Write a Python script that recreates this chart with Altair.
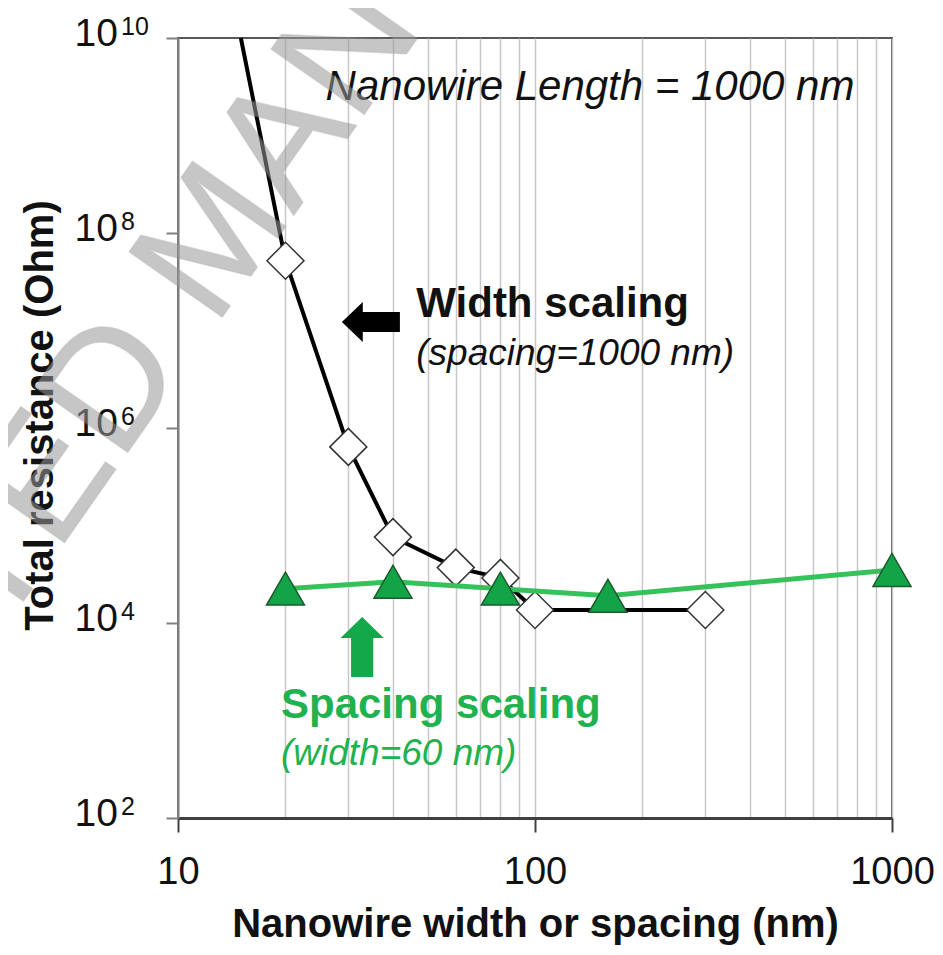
import altair as alt
import pandas as pd

# ---------------- data ----------------
# Width scaling (spacing = 1000 nm): black line, open diamonds
width_nm = [15, 20, 30, 40, 60, 80, 100, 300]
width_res = [1.0e10, 5.2e7, 6.4e5, 7.6e4, 3.7e4, 2.9e4, 1.36e4, 1.36e4]
width_marker = [False, True, True, True, True, True, True, True]

# Spacing scaling (width = 60 nm): green line, filled triangles
spacing_nm = [20, 40, 80, 160, 1000]
spacing_res = [2.25e4, 2.65e4, 2.25e4, 1.9e4, 3.5e4]

# axes
x_grid_values = [10, 20, 30, 40, 50, 60, 70, 80, 90,
                 100, 200, 300, 400, 500, 600, 700, 800, 900, 1000]
x_major = [10, 100, 1000]
y_tick_values = [1e2, 1e4, 1e6, 1e8, 1e10]
y_tick_base = ["10", "10", "10", "10", "10"]
y_tick_exp = ["2", "4", "6", "8", "10"]

x_title = "Nanowire width or spacing (nm)"
y_title = "Total resistance (Ohm)"

# annotations: text, x (nm), y (Ohm)
ann_length = ("Nanowire Length = 1000 nm", 142.6, 2.31e9)
ann_width_a = ("Width scaling", 46.5, 1.37e7)
ann_width_b = ("(spacing=1000 nm)", 46.5, 4.43e6)
ann_spacing_a = ("Spacing scaling", 19.43, 1.06e3)
ann_spacing_b = ("(width=60 nm)", 19.43, 350)
arrow_left = (34.7, 1.22e7)
arrow_up = (32.8, 5.68e3)
watermark = ("ACCEPTED MANUSCRIPT", 16.6, 4.37e7)

# ---------------- tables ----------------
df_w = pd.DataFrame({"x": width_nm, "y": width_res, "m": width_marker})
df_s = pd.DataFrame({"x": spacing_nm, "y": spacing_res})
df_yt = pd.DataFrame({"y": y_tick_values, "base": y_tick_base, "exp": y_tick_exp})

FONT = "Liberation Sans"
GREEN_LINE = "#35c25a"
GREEN_FILL = "#13a447"
GREEN_EDGE = "#1d5a2f"
GREEN_TEXT = "#20b24f"

major_test = "indexof([" + ",".join(str(v) for v in x_major) + "], datum.value) >= 0"

x_scale = alt.Scale(type="log", domain=[10, 1000], nice=False)
y_scale = alt.Scale(type="log", domain=[1e2, 1e10], nice=False)

x_axis = alt.Axis(
    values=x_grid_values,
    labelExpr=major_test + " ? format(datum.value, 'd') : ''",
    grid=True, gridColor="#c8c8c8", gridWidth=1.5,
    tickOpacity={"condition": {"test": major_test, "value": 1}, "value": 0},
    tickSize=14, tickColor="#404040", tickWidth=2,
    domainColor="#404040", domainWidth=3,
    labelFont=FONT, labelFontSize=38, labelColor="#111111",
    labelPadding=51, labelBaseline="alphabetic", labelFlush=False,
    labelOverlap=False,
    title=x_title, titleFont=FONT, titleFontSize=40, titleFontWeight="bold",
    titleColor="#111111", titleX=357, titleY=118, titleBaseline="alphabetic",
    titleAlign="center",
)
y_axis = alt.Axis(
    values=y_tick_values, labels=False, grid=False,
    tickSize=12, tickColor="#808080", tickWidth=2,
    domainColor="#808080", domainWidth=2,
    title=y_title, titleFont=FONT, titleFontSize=40, titleFontWeight="bold",
    titleColor="#111111", titleAngle=270, titleX=-126, titleY=377,
    titleBaseline="alphabetic", titleAlign="center",
)

X = alt.X("x:Q", scale=x_scale, axis=x_axis)
Y = alt.Y("y:Q", scale=y_scale, axis=y_axis)

width_line = alt.Chart(df_w).mark_line(color="#000000", strokeWidth=4).encode(x=X, y=Y)
width_pts = alt.Chart(df_w).transform_filter("datum.m").mark_point(
    shape="diamond", filled=True, fill="#ffffff", stroke="#333333",
    strokeWidth=1.5, size=1369, opacity=1
).encode(x=X, y=Y)

spacing_line = alt.Chart(df_s).mark_line(color=GREEN_LINE, strokeWidth=5).encode(x=X, y=Y)
spacing_pts = alt.Chart(df_s).mark_point(
    shape="triangle-up", filled=True, fill=GREEN_FILL, stroke=GREEN_EDGE,
    strokeWidth=1.5, size=1444, opacity=1
).encode(x=X, y=Y)


def pt(xy):
    return pd.DataFrame({"x": [xy[0]], "y": [xy[1]]})


def txt(a):
    return pd.DataFrame({"x": [a[1]], "y": [a[2]], "t": [a[0]]})


arrow_l = alt.Chart(pt(arrow_left)).mark_point(
    shape="M -1 0 L -0.28 -0.69 L -0.28 -0.345 L 1 -0.345 L 1 0.345 L -0.28 0.345 L -0.28 0.69 Z",
    filled=True, fill="#000000", strokeWidth=0, size=3364, opacity=1
).encode(x=X, y=Y)
arrow_u = alt.Chart(pt(arrow_up)).mark_point(
    shape="M 0 -1 L 0.72 -0.3 L 0.37 -0.3 L 0.37 1 L -0.37 1 L -0.37 -0.3 L -0.72 -0.3 Z",
    filled=True, fill="#13a84a", strokeWidth=0, size=3600, opacity=1
).encode(x=X, y=Y)

t_length = alt.Chart(txt(ann_length)).mark_text(
    font=FONT, fontSize=42, fontStyle="italic", color="#111111",
    align="center", baseline="alphabetic"
).encode(x=X, y=Y, text="t:N")
t_wa = alt.Chart(txt(ann_width_a)).mark_text(
    font=FONT, fontSize=42, fontWeight="bold", color="#111111",
    align="left", baseline="alphabetic"
).encode(x=X, y=Y, text="t:N")
t_wb = alt.Chart(txt(ann_width_b)).mark_text(
    font=FONT, fontSize=37, fontStyle="italic", color="#111111",
    align="left", baseline="alphabetic"
).encode(x=X, y=Y, text="t:N")
t_sa = alt.Chart(txt(ann_spacing_a)).mark_text(
    font=FONT, fontSize=42, fontWeight="bold", color=GREEN_TEXT,
    align="left", baseline="alphabetic"
).encode(x=X, y=Y, text="t:N")
t_sb = alt.Chart(txt(ann_spacing_b)).mark_text(
    font=FONT, fontSize=37, fontStyle="italic", color=GREEN_TEXT,
    align="left", baseline="alphabetic"
).encode(x=X, y=Y, text="t:N")

# y tick labels: "10" with superscript exponent
ylab_base = alt.Chart(df_yt).mark_text(
    font=FONT, fontSize=39, color="#111111", align="right",
    baseline="alphabetic", dy=8
).encode(x=alt.value(-60), y=Y, text="base:N")
ylab_exp = alt.Chart(df_yt).mark_text(
    font=FONT, fontSize=25, color="#111111", align="left",
    baseline="alphabetic", dy=-3
).encode(x=alt.value(-57), y=Y, text="exp:N")

# diagonal "accepted manuscript" watermark seen on the figure
t_mark = alt.Chart(txt(watermark)).mark_text(
    font=FONT, fontSize=165, color="#999999", opacity=0.55,
    align="center", baseline="alphabetic", angle=305,
    stroke="#8a8a8a", strokeWidth=1.5, strokeOpacity=0.6
).encode(x=X, y=Y, text="t:N")

chart = alt.layer(
    width_line, width_pts, spacing_line, spacing_pts,
    arrow_l, arrow_u, t_length, t_wa, t_wb, t_sa, t_sb,
    ylab_base, ylab_exp, t_mark,
).properties(
    width=714, height=780,
    autosize=alt.AutoSizeParams(type="none"),
    padding={"left": 170, "top": 30, "right": 43, "bottom": 129},
    background="#ffffff",
).configure_view(
    stroke="#595959", strokeWidth=2
)

chart.save("out.html", embed_options={"renderer": "svg", "actions": False})
